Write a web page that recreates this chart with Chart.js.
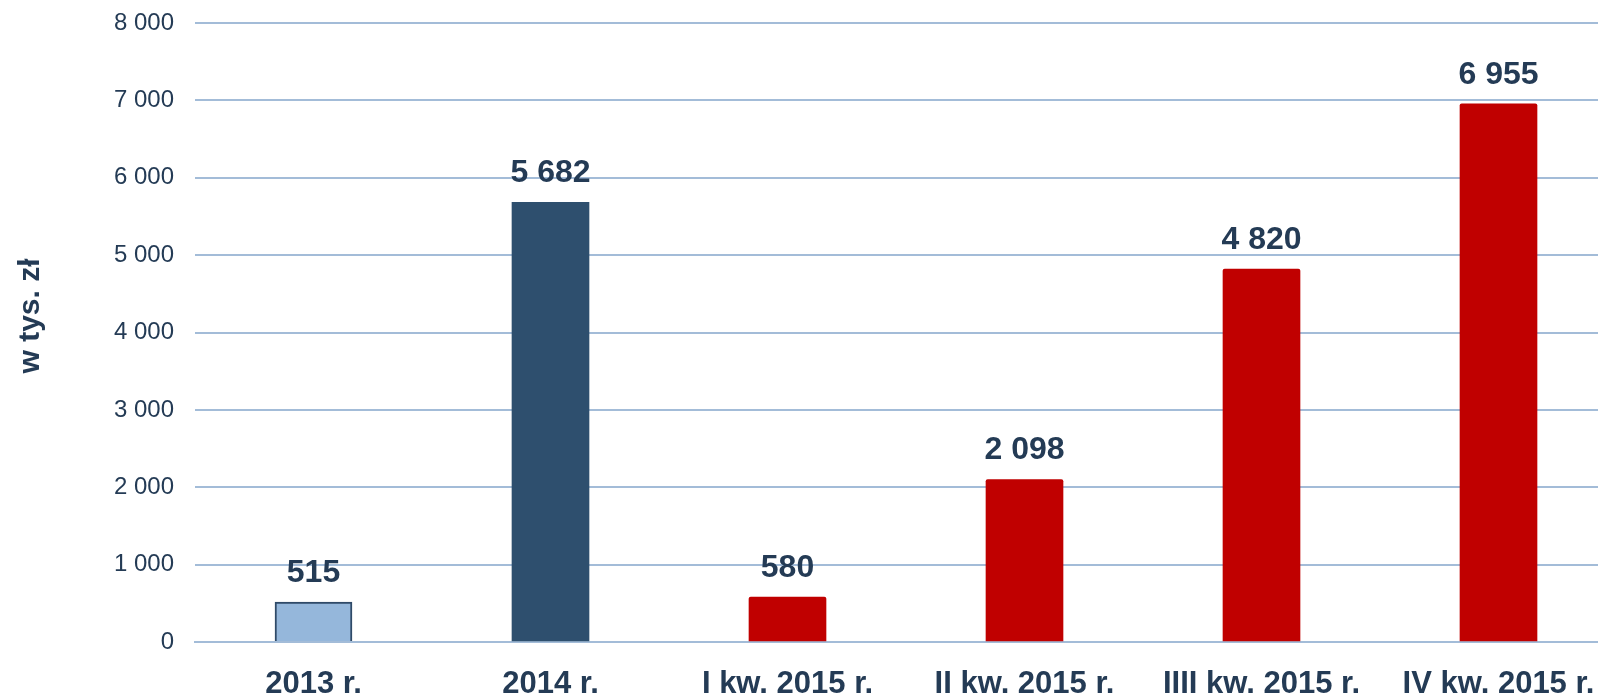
<!DOCTYPE html>
<html>
<head>
<meta charset="utf-8">
<script src="https://cdn.jsdelivr.net/npm/chart.js@4"></script>
<style>
  html, body { margin: 0; padding: 0; background: #fff; overflow: hidden; }
  #wrap { position: relative; width: 1617px; height: 695px; }
</style>
</head>
<body>
<div id="wrap"><canvas id="myChart"></canvas></div>
<script>
const categories = ['2013 r.', '2014 r.', 'I kw. 2015 r.', 'II kw. 2015 r.', 'IIII kw. 2015 r.', 'IV kw. 2015 r.'];
const values = [515, 5682, 580, 2098, 4820, 6955];
const barColors = ['#95b7db', '#2e4f6e', '#c00000', '#c00000', '#c00000', '#c00000'];
const borderColors = ['#2f4a68', '#2e4f6e', '#c00000', '#c00000', '#c00000', '#c00000'];
const yTitle = 'w tys. zł';

const textColor = '#243b55';
const fontFamily = '"Liberation Sans", Arial, sans-serif';

function fmt(v) {
  return String(v).replace(/\B(?=(\d{3})+(?!\d))/g, ' ');
}

// value labels above bars + rotated axis title
const labelsPlugin = {
  id: 'labels',
  afterDatasetsDraw(chart) {
    const c = chart.ctx;
    const meta = chart.getDatasetMeta(0);
    c.save();
    c.fillStyle = textColor;
    c.font = 'bold 32px ' + fontFamily;
    c.textAlign = 'center';
    c.textBaseline = 'middle';
    meta.data.forEach((bar, i) => {
      c.fillText(fmt(values[i]), bar.x, bar.y - 29);
    });
    c.restore();

    c.save();
    c.fillStyle = textColor;
    c.font = 'bold 30px ' + fontFamily;
    c.textAlign = 'center';
    c.textBaseline = 'middle';
    c.translate(31, 316);
    c.rotate(-Math.PI / 2);
    c.fillText(yTitle, 0, 0);
    c.restore();
  }
};

const ctx = document.getElementById('myChart');

new Chart(ctx, {
  type: 'bar',
  data: {
    labels: categories,
    datasets: [{
      data: values,
      backgroundColor: barColors,
      borderColor: borderColors,
      borderWidth: [2, 0, 0, 0, 0, 0],
      borderRadius: [0, 0, 2, 2, 2, 2],
      borderSkipped: 'bottom',
      barThickness: 77
    }]
  },
  options: {
    responsive: true,
    maintainAspectRatio: false,
    animation: false,
    layout: {
      padding: { top: 23, right: 0, bottom: 0, left: 0 }
    },
    plugins: {
      legend: { display: false },
      tooltip: { enabled: false }
    },
    scales: {
      x: {
        z: 1,
        afterFit(scale) { scale.height = 53; },
        grid: { display: false },
        border: { display: true, color: '#a3bcd8', width: 2 },
        ticks: {
          color: textColor,
          padding: 17,
          maxRotation: 0,
          autoSkip: false,
          font: { family: fontFamily, size: 31, weight: 'bold', lineHeight: 1.1 }
        }
      },
      y: {
        min: 0,
        max: 8000,
        afterFit(scale) {
          scale.width = 195;
          scale.paddingTop = 0;
          scale.paddingBottom = 0;
        },
        grid: { color: '#a3bcd8', lineWidth: 2, drawTicks: false },
        border: { display: false },
        ticks: {
          stepSize: 1000,
          color: textColor,
          padding: 21,
          font: { family: fontFamily, size: 24 },
          callback: (v) => fmt(v)
        }
      }
    }
  },
  plugins: [labelsPlugin]
});
</script>
</body>
</html>
